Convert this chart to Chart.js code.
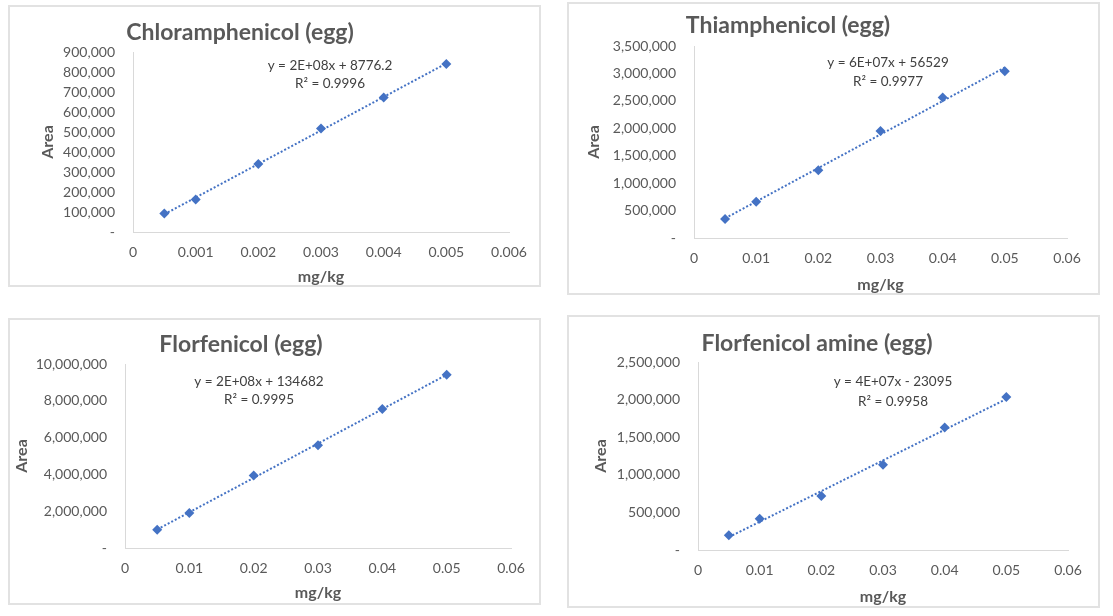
<!DOCTYPE html>
<html>
<head>
<meta charset="utf-8">
<script src="https://cdn.jsdelivr.net/npm/chart.js@4/dist/chart.umd.min.js"></script>
<style>
  body { margin: 0; background: #fff; width: 1113px; height: 616px; overflow: hidden; position: relative; }
  .panel { position: absolute; box-sizing: border-box; border: 2px solid #e2e2e2; }
  .panel canvas { position: absolute; left: -2px; top: -2px; }
</style>
</head>
<body>
<div class="panel"><canvas id="c0"></canvas></div>
<div class="panel"><canvas id="c1"></canvas></div>
<div class="panel"><canvas id="c2"></canvas></div>
<div class="panel"><canvas id="c3"></canvas></div>
<script>
// concentrations (mg/kg)
const concChloramphenicol = [0.0005, 0.001, 0.002, 0.003, 0.004, 0.005];
const concOthers = [0.005, 0.01, 0.02, 0.03, 0.04, 0.05];

// peak areas
const areaChloramphenicol = [93000, 163000, 340000, 518000, 673000, 840000];
const areaThiamphenicol = [346000, 663000, 1234000, 1950000, 2559000, 3039000];
const areaFlorfenicol = [993000, 1899000, 3939000, 5589000, 7558000, 9419000];
const areaFlorfenicolAmine = [196000, 417000, 719000, 1132000, 1629000, 2034000];

// axis ranges
const yMax = [900000, 3500000, 10000000, 2500000];
const yStep = [100000, 500000, 2000000, 500000];
const xMax = [0.006, 0.06, 0.06, 0.06];
const xStep = [0.001, 0.01, 0.01, 0.01];

const titles = ["Chloramphenicol (egg)", "Thiamphenicol (egg)", "Florfenicol (egg)", "Florfenicol amine (egg)"];
const equations = ["y = 2E+08x + 8776.2", "y = 6E+07x + 56529", "y = 2E+08x + 134682", "y = 4E+07x - 23095"];
const rSquared = ["R\u00B2 = 0.9996", "R\u00B2 = 0.9977", "R\u00B2 = 0.9995", "R\u00B2 = 0.9958"];

const BLUE = "#4472C4";
const GREY = "#595959";

// panel boxes and plot areas (pixels, plot area relative to panel)
const layouts = [
  { left: 8, top: 5, w: 533, h: 282, area: { l: 125, t: 47, r: 501, b: 227 }, title: [232, 28], eq: [322, 61, 79], areaX: 40, unitY: 272 },
  { left: 567, top: 2, w: 533, h: 293, area: { l: 127, t: 44, r: 500, b: 236 }, title: [221, 24], eq: [321, 61, 80], areaX: 27, unitY: 283 },
  { left: 8, top: 318, w: 533, h: 287, area: { l: 117, t: 46, r: 503, b: 230 }, title: [233, 27], eq: [251, 64, 82], areaX: 14, unitY: 275 },
  { left: 567, top: 315, w: 533, h: 293, area: { l: 131, t: 47, r: 501, b: 235 }, title: [250, 29], eq: [326, 67, 87], areaX: 34, unitY: 282 }
];

function linearFit(xs, ys) {
  const n = xs.length;
  const mx = xs.reduce((a, b) => a + b, 0) / n;
  const my = ys.reduce((a, b) => a + b, 0) / n;
  let sxy = 0, sxx = 0;
  xs.forEach((x, i) => { sxy += (x - mx) * (ys[i] - my); sxx += (x - mx) * (x - mx); });
  const m = sxy / sxx;
  return (x) => m * x + (my - m * mx);
}

function makeChart(i, xs, ys) {
  const lay = layouts[i];
  const canvas = document.getElementById("c" + i);
  const wrap = canvas.parentNode;
  wrap.style.left = lay.left + "px";
  wrap.style.top = lay.top + "px";
  wrap.style.width = lay.w + "px";
  wrap.style.height = lay.h + "px";
  canvas.width = lay.w;
  canvas.height = lay.h;

  const fit = linearFit(xs, ys);
  const x0 = Math.min(...xs), x1 = Math.max(...xs);

  // chart title, trendline label and axis titles
  const textPlugin = {
    id: "panelText",
    afterDraw(chart) {
      const ctx = chart.ctx;
      const ca = chart.chartArea;
      ctx.save();
      ctx.textAlign = "center";
      ctx.textBaseline = "middle";
      ctx.fillStyle = GREY;
      ctx.font = "bold 23px Lato";
      ctx.fillText(titles[i], lay.title[0], lay.title[1]);
      ctx.fillStyle = "#404040";
      ctx.font = "13.5px Lato";
      ctx.fillText(equations[i], lay.eq[0], lay.eq[1]);
      ctx.fillText(rSquared[i], lay.eq[0], lay.eq[2]);
      ctx.fillStyle = GREY;
      ctx.font = "bold 16px Lato";
      ctx.fillText("mg/kg", (ca.left + ca.right) / 2, lay.unitY);
      ctx.translate(lay.areaX, (ca.top + ca.bottom) / 2);
      ctx.rotate(-Math.PI / 2);
      ctx.fillText("Area", 0, 0);
      ctx.restore();
    }
  };

  new Chart(canvas, {
    type: "scatter",
    data: {
      datasets: [
        {
          data: xs.map((x, k) => ({ x: x, y: ys[k] })),
          pointStyle: "rectRot",
          pointRadius: 5,
          backgroundColor: BLUE,
          borderColor: BLUE,
          borderWidth: 0
        },
        {
          data: [{ x: x0, y: fit(x0) }, { x: x1, y: fit(x1) }],
          showLine: true,
          pointRadius: 0,
          borderColor: BLUE,
          borderWidth: 2,
          borderDash: [2, 2]
        }
      ]
    },
    options: {
      responsive: false,
      animation: false,
      events: [],
      layout: { padding: { top: lay.area.t, right: lay.w - lay.area.r, left: 0, bottom: 0 } },
      plugins: { legend: { display: false }, tooltip: { enabled: false } },
      scales: {
        x: {
          type: "linear",
          min: 0,
          max: xMax[i],
          ticks: {
            stepSize: xStep[i],
            autoSkip: false,
            maxRotation: 0,
            padding: 12,
            color: GREY,
            font: { family: "Lato", size: 14 },
            callback: (v) => v === 0 ? "0" : String(+v.toFixed(4))
          },
          grid: { display: false, drawTicks: false },
          border: { color: "#d9d9d9", width: 1 },
          afterFit(s) { s.height = lay.h - lay.area.b; s.paddingLeft = 0; s.paddingRight = 0; }
        },
        y: {
          min: 0,
          max: yMax[i],
          ticks: {
            stepSize: yStep[i],
            autoSkip: false,
            padding: 18,
            color: GREY,
            font: { family: "Lato", size: 14 },
            callback: (v) => v === 0 ? "-" : v.toLocaleString("en-US")
          },
          grid: { display: false, drawTicks: false },
          border: { color: "#d9d9d9", width: 1 },
          afterFit(s) { s.width = lay.area.l; s.paddingTop = 0; s.paddingBottom = 0; }
        }
      }
    },
    plugins: [textPlugin]
  });
}

makeChart(0, concChloramphenicol, areaChloramphenicol);
makeChart(1, concOthers, areaThiamphenicol);
makeChart(2, concOthers, areaFlorfenicol);
makeChart(3, concOthers, areaFlorfenicolAmine);
</script>
</body>
</html>
